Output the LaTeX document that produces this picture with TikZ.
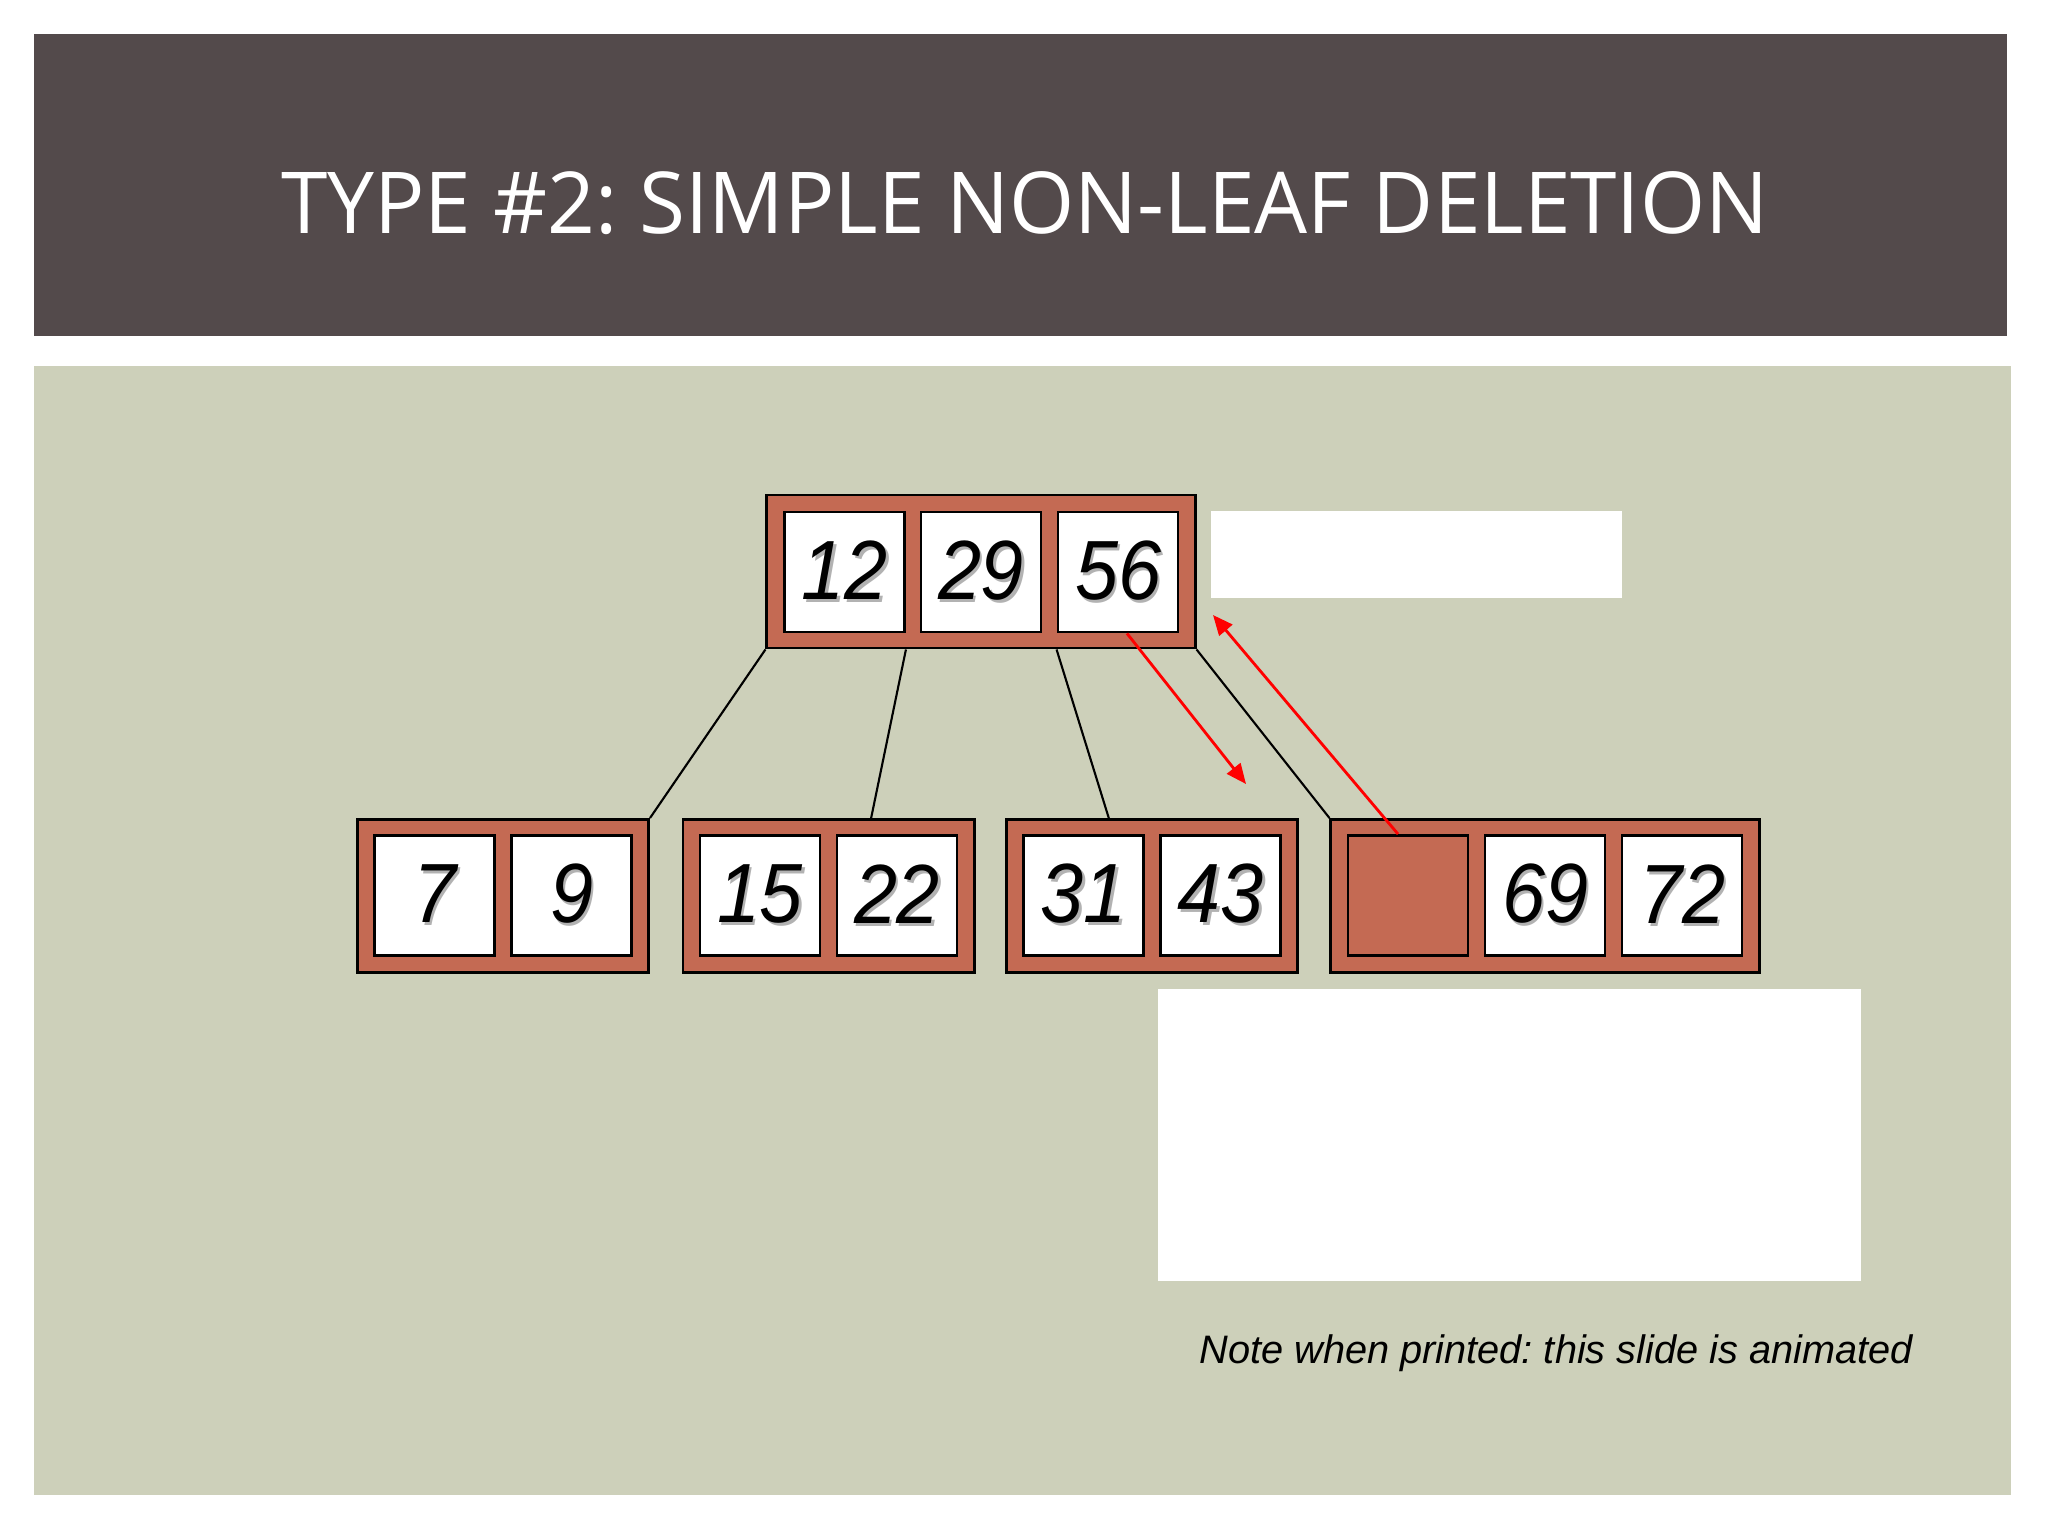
\documentclass[tikz,border=0pt]{standalone}
\usepackage{fontspec}
\setmainfont{Liberation Sans}
\newfontfamily\titlefont{Open Sans}
\usetikzlibrary{arrows.meta,calc}

\definecolor{slidebar}{RGB}{83,74,75}
\definecolor{slidebg}{RGB}{205,208,186}
\definecolor{nodefill}{RGB}{196,106,83}
\definecolor{keyshadow}{RGB}{178,178,178}

\frenchspacing
\newcommand{\keynum}[1]{\raisebox{-0.08cm}{\scalebox{0.92}[1]{\rlap{\hspace{0.03cm}\raisebox{-0.03cm}{\color{keyshadow}#1}}#1}}}

\begin{document}
\begin{tikzpicture}[x=0.01cm,y=-0.01cm]
        \tikzstyle{treenode}=[draw,fill=nodefill,line width=0.8pt,inner sep=0pt,minimum height=1.53cm]
        \tikzstyle{keycell}=[draw,fill=white,line width=0.8pt,inner sep=0pt,minimum size=1.2cm,font=\fontsize{23.9}{24}\selectfont\itshape]
        \tikzstyle{link}=[line width=0.6pt]
        \tikzstyle{moveline}=[red,line width=0.8pt,-{Triangle[length=0.2cm,width=0.17cm]}]

        \useasboundingbox (0,0) rectangle (2048,1536);
        \fill[white] (0,0) rectangle (2048,1536);
        \fill[slidebar] (34,34) rectangle (2007,336);
        \fill[slidebg] (34,366) rectangle (2011,1495);

        \node[anchor=base,text=white,font=\titlefont\fontsize{24.3}{26}\selectfont](title) at (1025,233){\scalebox{0.98}[1]{TYPE \#2: SIMPLE NON-LEAF DELETION}};

        \node[treenode,minimum width=4.28cm](root) at (981,571.5){};
        \node[keycell](k12) at (844.5,572){\keynum{12}};
        \node[keycell](k29) at (981,572){\keynum{29}};
        \node[keycell](k56) at (1118,572){\keynum{56}};
        \fill[white] (1211,511) rectangle (1622,598);

        \node[treenode,minimum width=2.91cm](leafA) at (503,896){};
        \node[keycell](k7) at (434.5,895.5){\keynum{7}};
        \node[keycell](k9) at (571.5,895.5){\keynum{9}};

        \node[treenode,minimum width=2.91cm](leafB) at (828.5,896){};
        \node[keycell](k15) at (760,895.5){\keynum{15}};
        \node[keycell](k22) at (897,895.5){\keynum{22}};

        \node[treenode,minimum width=2.91cm](leafC) at (1152,896){};
        \node[keycell](k31) at (1083.5,895.5){\keynum{31}};
        \node[keycell](k43) at (1220.5,895.5){\keynum{43}};

        \node[treenode,minimum width=4.28cm](leafD) at (1545,896){};
        \node[keycell,fill=nodefill](kgap) at (1408,895.5){};
        \node[keycell](k69) at (1545,895.5){\keynum{69}};
        \node[keycell](k72) at (1682,895.5){\keynum{72}};

        \fill[white] (1158,989) rectangle (1861,1281);

        \draw[link] (root.south west) -- (leafA.north east);
        \draw[link] (root.south -| k12.east) -- ($(leafB.north west)!0.645!(leafB.north east)$);
        \draw[link] (root.south -| k56.west) -- ($(leafC.north west)!0.353!(leafC.north east)$);
        \draw[link] (root.south east) -- (leafD.north west);

        \coordinate (tipA) at (1246,784);
        \coordinate (tipB) at (1213,615);
        \draw[moveline] ($(k56.south)+(9,0)$) -- (tipA);
        \draw[moveline] ($(kgap.north)+(-10,0)$) -- (tipB);

        \node[anchor=base west,font=\fontsize{11.3}{13}\selectfont\itshape](note) at (1187,1363){Note when printed: this slide is animated};

\end{tikzpicture}
\end{document}
